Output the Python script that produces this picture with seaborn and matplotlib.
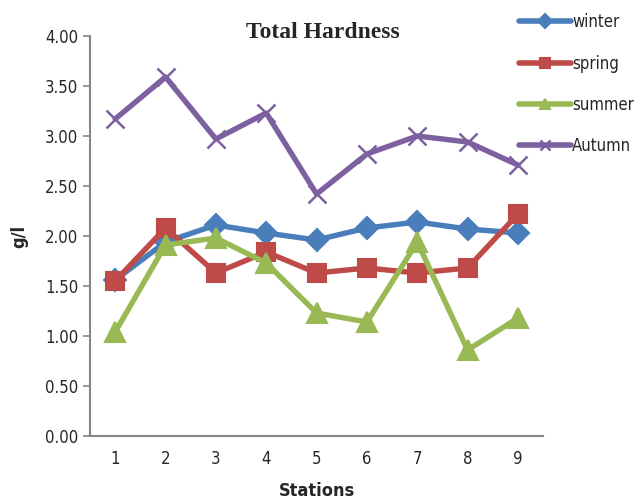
import matplotlib
matplotlib.use("Agg")
import matplotlib.pyplot as plt
import seaborn as sns
import pandas as pd
import numpy as np

stations = ["1", "2", "3", "4", "5", "6", "7", "8", "9"]
winter = [1.56, 1.94, 2.11, 2.03, 1.96, 2.08, 2.14, 2.07, 2.03]
spring = [1.55, 2.08, 1.63, 1.84, 1.63, 1.68, 1.63, 1.68, 2.22]
summer = [1.04, 1.91, 1.98, 1.73, 1.23, 1.14, 1.94, 0.86, 1.18]
autumn = [3.17, 3.59, 2.97, 3.23, 2.42, 2.82, 3.00, 2.94, 2.71]

series = {"winter": winter, "spring": spring, "summer": summer, "Autumn": autumn}
colors = {"winter": "#4A7EBB", "spring": "#BE4B48", "summer": "#98B954", "Autumn": "#7D60A0"}
markers = {"winter": "D", "spring": "s", "summer": "^", "Autumn": "x"}
msizes = {"winter": 11, "spring": 13, "summer": 14, "Autumn": 13}

sns.set_theme(style="white")
plt.rcParams['font.family'] = ['DejaVu Sans']
plt.rcParams['font.stretch'] = 'condensed'

fig = plt.figure(figsize=(6.36, 5.0), dpi=100)
ax = fig.add_axes([0.1415, 0.128, 0.854 - 0.1415, 0.928 - 0.128])

xpos = np.arange(len(stations))
for name, vals in series.items():
    df = pd.DataFrame({"x": xpos, "y": vals})
    sns.lineplot(data=df, x="x", y="y", ax=ax, color=colors[name], linewidth=3.9,
                 marker=markers[name], markersize=msizes[name],
                 markeredgecolor=colors[name], markeredgewidth=1.5 if name != "Autumn" else 1.8,
                 label=name, zorder=3 if name != "Autumn" else 2)

ax.set_xlim(-0.5, len(stations) - 0.5)
ax.set_ylim(0, 4.0)
ax.set_yticks(np.arange(0, 4.01, 0.5))
ax.set_yticklabels([f"{v:.2f}" for v in np.arange(0, 4.01, 0.5)], fontsize=12)
ax.set_xticks(xpos)
ax.set_xticklabels(stations, fontsize=12)
ax.set_xticks(np.arange(-0.5, len(stations)), minor=True)
ax.tick_params(axis="x", which="major", length=0, pad=10)
ax.tick_params(axis="x", which="minor", length=5, color="#868686", width=1.2, direction="out")
ax.tick_params(axis="y", which="major", length=5, color="#868686", width=1.2, direction="out", left=True)

for s in ["top", "right"]:
    ax.spines[s].set_visible(False)
for s in ["left", "bottom"]:
    ax.spines[s].set_color("#868686")
    ax.spines[s].set_linewidth(1.5)

ax.set_xlabel("Stations", fontsize=13, fontweight="bold", labelpad=10)
ax.set_ylabel("g/l", fontsize=13, fontweight="bold", labelpad=12)
ax.grid(False)

fig.text(0.507, 0.936, "Total Hardness", ha="center", va="center",
         fontsize=17, fontweight="bold", family=["Liberation Serif", "DejaVu Serif"],
         fontstretch="normal")

leg = ax.legend(loc="upper left", bbox_to_anchor=(0.932, 1.0735), frameon=False,
                fontsize=12, handlelength=3.1, labelspacing=1.4, handletextpad=0.1,
                borderaxespad=0)
for line in leg.get_lines():
    line.set_markersize(7)
    line.set_linewidth(4)

fig.savefig("out.png", dpi=100)
